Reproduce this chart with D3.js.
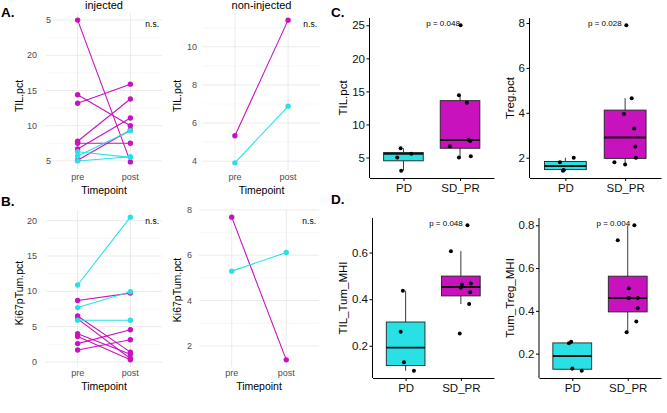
<!DOCTYPE html>
<html>
<head>
<meta charset="utf-8">
<script src="https://cdn.jsdelivr.net/npm/d3@7"></script>
<style>
	body { margin: 0; background: #fff; }
	svg { font-family: 'Liberation Sans', Arial, sans-serif; }
</style>
</head>
<body>
<svg id="fig" width="667" height="413"></svg>
<script>
'use strict'

const cyan = '#29e1e4'
const magenta = '#c812be'
const groupColor = {PD: cyan, SD_PR: magenta}

const timepoints = ['pre', 'post']

// A. TIL.pct, paired pre/post
const injTilGroup = ['SD_PR', 'SD_PR', 'SD_PR', 'SD_PR', 'SD_PR', 'SD_PR', 'SD_PR', 'PD', 'PD', 'PD']
const injTilPre = [25, 14.4, 13.2, 7.8, 7.5, 6.7, 5.1, 6.3, 5.7, 5.0]
const injTilPost = [4.86, 10.0, 15.9, 13.8, 7.5, 11.1, 9.4, 5.5, 9.3, 5.6]
const injTilTicks = [5, 10, 15, 20, 25]
const injTilTickLabels = ['5', '10', '15', '20', '5']

const nonTilGroup = ['SD_PR', 'PD']
const nonTilPre = [5.33, 3.91]
const nonTilPost = [11.4, 6.88]
const nonTilTicks = [4, 6, 8, 10]

// B. Ki67pTum.pct, paired pre/post
const injKiGroup = ['SD_PR', 'SD_PR', 'SD_PR', 'SD_PR', 'SD_PR', 'SD_PR', 'SD_PR', 'PD', 'PD', 'PD']
const injKiPre = [8.7, 6.5, 6.1, 4.0, 3.6, 2.6, 1.7, 10.9, 7.7, 5.9]
const injKiPost = [9.75, 1.4, 0.5, 1.1, 0.3, 4.56, 3.15, 20.5, 9.95, 5.9]
const injKiTicks = [0, 5, 10, 15, 20]

const nonKiGroup = ['SD_PR', 'PD']
const nonKiPre = [7.68, 5.3]
const nonKiPost = [1.39, 6.12]
const nonKiTicks = [2, 4, 6, 8]

// C. / D. response groups
const boxGroups = ['PD', 'SD_PR']

const tilPctPD = [6.4, 5.0, 5.55, 3.0]
const tilPctSD = [5.0, 5.2, 6.7, 7.7, 7.5, 14.4, 13.3, 25]
const tilPctJitPD = [-0.05, -0.11, 0.14, -0.04]
const tilPctJitSD = [-0.02, 0.19, -0.18, 0.15, 0.18, -0.02, 0.12, 0.01]
const tilPctBoxPD = [3.0, 4.5, 5.55, 5.75, 6.4]
const tilPctBoxSD = [5.0, 6.4, 7.65, 13.6, 14.4]
const tilPctTicks = [5, 10, 15, 20, 25]

const tregPctPD = [1.8, 2.0, 1.42, 1.45]
const tregPctSD = [7.9, 4.65, 3.95, 3.3, 2.5, 2.0, 1.8, 1.7]
const tregPctJitPD = [-0.09, 0.14, -0.04, -0.03]
const tregPctJitSD = [0.02, 0.11, -0.02, 0.15, 0.17, 0.18, -0.18, 0]
const tregPctBoxPD = [1.4, 1.47, 1.63, 1.83, 2.0]
const tregPctBoxSD = [1.7, 1.97, 2.9, 4.12, 4.65]
const tregPctTicks = [2, 4, 6, 8]

const tilMhiPD = [0.436, 0.26, 0.129, 0.093]
const tilMhiSD = [0.717, 0.606, 0.463, 0.449, 0.467, 0.43, 0.379, 0.253]
const tilMhiJitPD = [-0.05, -0.09, -0.03, 0.15]
const tilMhiJitSD = [0.12, -0.18, 0.02, 0, 0.18, 0.17, 0.15, -0.02]
const tilMhiBoxPD = [0.093, 0.115, 0.192, 0.302, 0.436]
const tilMhiBoxSD = [0.379, 0.414, 0.452, 0.499, 0.606]
const tilMhiTicks = [0.2, 0.4, 0.6]

const tregMhiPD = [0.248, 0.256, 0.13, 0.12]
const tregMhiSD = [0.8, 0.73, 0.505, 0.46, 0.46, 0.412, 0.35, 0.3]
const tregMhiJitPD = [-0.06, -0.02, 0, 0.17]
const tregMhiJitSD = [0.12, -0.18, 0.02, 0.02, 0.18, 0.18, 0.155, -0.02]
const tregMhiBoxPD = [0.12, 0.127, 0.189, 0.25, 0.258]
const tregMhiBoxSD = [0.3, 0.395, 0.46, 0.562, 0.8]
const tregMhiTicks = [0.2, 0.4, 0.6, 0.8]

const pValues = ['p = 0.048', 'p = 0.028', 'p = 0.048', 'p = 0.004']

const svg = d3.select('#fig')

function padded(values) {
	const ext = d3.extent(values)
	const pad = (ext[1] - ext[0]) * 0.05
	return [ext[0] - pad, ext[1] + pad]
}

function pairedPanel(cfg) {
	const g = svg.append('g')
	const x = d3.scalePoint().domain(timepoints).range([cfg.left, cfg.right]).padding(0.6)
	const y = d3.scaleLinear()
		.domain(padded(cfg.pre.concat(cfg.post)))
		.range([cfg.bottom, cfg.top])

	// minor grid between ticks
	const minor = []
	const step = cfg.ticks[1] - cfg.ticks[0]
	for (let v = cfg.ticks[0] - step / 2; v <= y.domain()[1]; v += step) {
		if (v >= y.domain()[0] && cfg.ticks.indexOf(v) < 0) minor.push(v)
	}
	g.selectAll('.minor').data(minor).enter().append('line')
		.attr('x1', cfg.left).attr('x2', cfg.right)
		.attr('y1', (d) => y(d)).attr('y2', (d) => y(d))
		.attr('stroke', '#f1f1f1').attr('stroke-width', 0.6)
	g.selectAll('.major').data(cfg.ticks).enter().append('line')
		.attr('x1', cfg.left).attr('x2', cfg.right)
		.attr('y1', (d) => y(d)).attr('y2', (d) => y(d))
		.attr('stroke', '#ebebeb').attr('stroke-width', 1)
	g.selectAll('.vgrid').data(timepoints).enter().append('line')
		.attr('x1', (d) => x(d)).attr('x2', (d) => x(d))
		.attr('y1', cfg.top).attr('y2', cfg.bottom)
		.attr('stroke', '#ebebeb').attr('stroke-width', 1)

	// tick labels
	g.selectAll('.ylab').data(cfg.ticks).enter().append('text')
		.attr('x', (d, i) => {
			const lab = cfg.labels ? cfg.labels[i] : String(d)
			return (cfg.shortLabelX && lab.length === 1) ? cfg.shortLabelX : cfg.labelRight
		})
		.attr('y', (d) => y(d))
		.attr('dy', '0.35em')
		.attr('text-anchor', 'end')
		.attr('font-size', 9)
		.attr('fill', '#4d4d4d')
		.text((d, i) => cfg.labels ? cfg.labels[i] : String(d))
	g.selectAll('.xlab').data(timepoints).enter().append('text')
		.attr('x', (d) => x(d))
		.attr('y', cfg.xlabY)
		.attr('text-anchor', 'middle')
		.attr('font-size', 9)
		.attr('fill', '#4d4d4d')
		.text((d) => d)

	g.append('text')
		.attr('x', (cfg.left + cfg.right) / 2)
		.attr('y', cfg.xtitleY)
		.attr('text-anchor', 'middle')
		.attr('font-size', 10.5)
		.text('Timepoint')
	g.append('text')
		.attr('transform', `translate(${cfg.ytitleX},${cfg.ytitleY}) rotate(-90)`)
		.attr('text-anchor', 'middle')
		.attr('dy', '0.35em')
		.attr('font-size', 10.5)
		.text(cfg.ytitle)
	if (cfg.title) {
		g.append('text')
			.attr('x', (cfg.left + cfg.right) / 2)
			.attr('y', 8.5)
			.attr('text-anchor', 'middle')
			.attr('font-size', 11)
			.text(cfg.title)
	}
	g.append('text')
		.attr('x', cfg.right - 3)
		.attr('y', cfg.top + 14)
		.attr('text-anchor', 'end')
		.attr('font-size', 8.5)
		.text('n.s.')

	const idx = d3.range(cfg.pre.length)
	g.selectAll('.pair').data(idx).enter().append('line')
		.attr('x1', x('pre')).attr('x2', x('post'))
		.attr('y1', (i) => y(cfg.pre[i])).attr('y2', (i) => y(cfg.post[i]))
		.attr('stroke', (i) => groupColor[cfg.group[i]])
		.attr('stroke-width', 1.1)
	timepoints.forEach((tp) => {
		const vals = tp === 'pre' ? cfg.pre : cfg.post
		g.selectAll('.pt-' + tp).data(idx).enter().append('circle')
			.attr('cx', x(tp))
			.attr('cy', (i) => y(vals[i]))
			.attr('r', 2.7)
			.attr('fill', (i) => groupColor[cfg.group[i]])
	})
}

function boxPanel(cfg) {
	const g = svg.append('g')
	const x = d3.scalePoint().domain(boxGroups).range([cfg.left, cfg.right]).padding(0.6)
	const step = x.step()
	const y = d3.scaleLinear()
		.domain(padded(cfg.PD.concat(cfg.SD)))
		.range([cfg.bottom, cfg.top])

	const series = [
		{grp: 'PD', vals: cfg.PD, jit: cfg.jitPD, box: cfg.boxPD},
		{grp: 'SD_PR', vals: cfg.SD, jit: cfg.jitSD, box: cfg.boxSD}
	]

	series.forEach((s) => {
		const cx = x(s.grp)
		const [lo, q1, med, q3, hi] = s.box
		g.append('line').attr('x1', cx).attr('x2', cx).attr('y1', y(hi)).attr('y2', y(q3))
			.attr('stroke', '#222').attr('stroke-width', 0.9)
		g.append('line').attr('x1', cx).attr('x2', cx).attr('y1', y(q1)).attr('y2', y(lo))
			.attr('stroke', '#222').attr('stroke-width', 0.9)
		g.append('rect')
			.attr('x', cx - step * 0.35)
			.attr('width', step * 0.7)
			.attr('y', y(q3))
			.attr('height', y(q1) - y(q3))
			.attr('fill', groupColor[s.grp])
			.attr('stroke', '#222')
			.attr('stroke-width', 0.9)
		g.append('line')
			.attr('x1', cx - step * 0.35).attr('x2', cx + step * 0.35)
			.attr('y1', y(med)).attr('y2', y(med))
			.attr('stroke', '#111').attr('stroke-width', 1.9)
		g.selectAll('.dot-' + s.grp).data(s.vals).enter().append('circle')
			.attr('cx', (d, i) => cx + s.jit[i] * step)
			.attr('cy', (d) => y(d))
			.attr('r', 2)
			.attr('fill', '#000')
	})

	const yAxis = g.append('g')
		.attr('transform', `translate(${cfg.left},0)`)
		.call(d3.axisLeft(y).tickValues(cfg.ticks).tickSize(3).tickSizeOuter(0).tickPadding(1.5)
			.tickFormat(cfg.fmt || d3.format('')))
	const xAxis = g.append('g')
		.attr('transform', `translate(0,${cfg.bottom})`)
		.call(d3.axisBottom(x).tickSize(3).tickSizeOuter(0).tickPadding(2.5))
	;[yAxis, xAxis].forEach((ax) => {
		ax.select('.domain').attr('stroke', '#000').attr('stroke-width', 1)
		ax.selectAll('.tick line').attr('stroke', '#000').attr('stroke-width', 1)
		ax.selectAll('.tick text')
			.attr('font-size', 11.5)
			.attr('font-family', "'Liberation Sans', Arial, sans-serif")
			.attr('fill', '#111')
	})
	// keep the domain at the panel edges
	yAxis.select('.domain').attr('d', `M0,${cfg.bottom}V${cfg.top}`)

	g.append('text')
		.attr('transform', `translate(${cfg.ytitleX},${(cfg.top + cfg.bottom) / 2}) rotate(-90)`)
		.attr('text-anchor', 'middle')
		.attr('dy', '0.35em')
		.attr('font-size', 11.5)
		.text(cfg.ytitle)

	const maxV = d3.max(cfg.SD.concat(cfg.PD))
	g.append('text')
		.attr('x', cfg.left + step * (0.6 + cfg.pX))
		.attr('y', y(maxV) + 0.5)
		.attr('text-anchor', 'middle')
		.attr('font-size', 8)
		.text(cfg.p)
}

pairedPanel({left: 46, right: 162, top: 13, bottom: 169, pre: injTilPre, post: injTilPost, group: injTilGroup,
	ticks: injTilTicks, labels: injTilTickLabels, labelRight: 37, shortLabelX: 51, xlabY: 179.5, xtitleY: 194,
	ytitle: 'TIL.pct', ytitleX: 19, ytitleY: 96, title: 'injected'})
pairedPanel({left: 203, right: 320, top: 13, bottom: 170, pre: nonTilPre, post: nonTilPost, group: nonTilGroup,
	ticks: nonTilTicks, labelRight: 197, xlabY: 179.5, xtitleY: 194,
	ytitle: 'TIL.pct', ytitleX: 177.5, ytitleY: 96, title: 'non-injected'})
pairedPanel({left: 46, right: 162, top: 210, bottom: 367, pre: injKiPre, post: injKiPost, group: injKiGroup,
	ticks: injKiTicks, labelRight: 37, xlabY: 376, xtitleY: 389.5,
	ytitle: 'Ki67pTum.pct', ytitleX: 19, ytitleY: 293})
pairedPanel({left: 199, right: 319, top: 210, bottom: 367, pre: nonKiPre, post: nonKiPost, group: nonKiGroup,
	ticks: nonKiTicks, labelRight: 192, xlabY: 376, xtitleY: 389.5,
	ytitle: 'Ki67pTum.pct', ytitleX: 177.5, ytitleY: 290})

boxPanel({left: 369.5, right: 494, top: 18, bottom: 178, PD: tilPctPD, SD: tilPctSD, jitPD: tilPctJitPD, jitSD: tilPctJitSD,
	boxPD: tilPctBoxPD, boxSD: tilPctBoxSD, ticks: tilPctTicks, ytitle: 'TIL.pct', ytitleX: 343, p: pValues[0], pX: 0.7})
boxPanel({left: 529.5, right: 661, top: 18, bottom: 178, PD: tregPctPD, SD: tregPctSD, jitPD: tregPctJitPD, jitSD: tregPctJitSD,
	boxPD: tregPctBoxPD, boxSD: tregPctBoxSD, ticks: tregPctTicks, ytitle: 'Treg.pct', ytitleX: 510, p: pValues[1], pX: 0.66})
boxPanel({left: 372.5, right: 494, top: 218, bottom: 378, PD: tilMhiPD, SD: tilMhiSD, jitPD: tilMhiJitPD, jitSD: tilMhiJitSD,
	boxPD: tilMhiBoxPD, boxSD: tilMhiBoxSD, ticks: tilMhiTicks, fmt: d3.format('.1f'), ytitle: 'TIL_Tum_MHI', ytitleX: 343, p: pValues[2], pX: 0.73})
boxPanel({left: 539, right: 661, top: 218, bottom: 378, PD: tregMhiPD, SD: tregMhiSD, jitPD: tregMhiJitPD, jitSD: tregMhiJitSD,
	boxPD: tregMhiBoxPD, boxSD: tregMhiBoxSD, ticks: tregMhiTicks, fmt: d3.format('.1f'), ytitle: 'Tum_Treg_MHI', ytitleX: 510, p: pValues[3], pX: 0.74})

// panel letters
const letters = [['A.', 1, 16.5], ['B.', 1, 205.5], ['C.', 331, 16.5], ['D.', 331, 203.5]]
svg.selectAll('.letter').data(letters).enter().append('text')
	.attr('x', (d) => d[1])
	.attr('y', (d) => d[2])
	.attr('font-size', 13.5)
	.attr('font-weight', 'bold')
	.text((d) => d[0])
</script>
</body>
</html>
